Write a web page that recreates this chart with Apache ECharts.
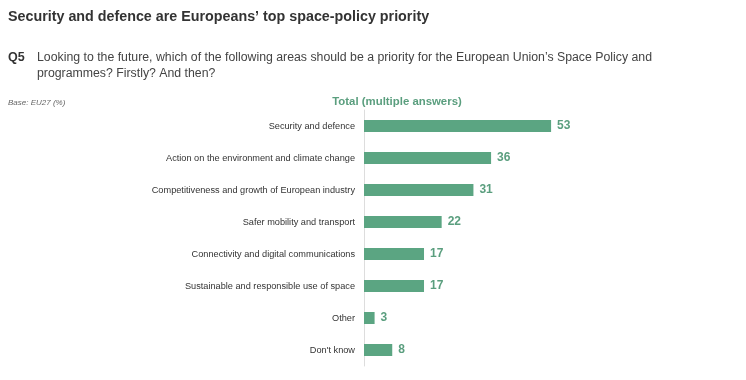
<!DOCTYPE html>
<html><head><meta charset="utf-8">
<script src="https://cdn.jsdelivr.net/npm/echarts@6/dist/echarts.min.js"></script>
<style>html,body{margin:0;padding:0;background:#fff}#c{width:746px;height:380px}</style>
</head><body><div id="c"></div>
<script>
const categories = ["Security and defence","Action on the environment and climate change","Competitiveness and growth of European industry","Safer mobility and transport","Connectivity and digital communications","Sustainable and responsible use of space","Other","Don't know"];
const values = [53, 36, 31, 22, 17, 17, 3, 8];

const chart = echarts.init(document.getElementById('c'));
const F = '"Liberation Sans", Arial, sans-serif';
chart.setOption({
  animation: false,
  title: [
    {text: "Security and defence are Europeans’ top space-policy priority", left: 8, top: 10, padding: 0,
     textStyle: {fontFamily: F, fontWeight: 'bold', fontSize: 14.3, color: '#333'}},
    {text: "Q5", left: 8, top: 50, padding: 0, textStyle: {fontFamily: F, fontWeight: 'bold', fontSize: 12.5, lineHeight: 16, color: '#333'}},
    {text: "Looking to the future, which of the following areas should be a priority for the European Union’s Space Policy and\nprogrammes? Firstly? And then?", left: 37, top: 50, padding: 0,
     textStyle: {fontFamily: F, fontWeight: 'normal', fontSize: 12.3, lineHeight: 16, color: '#444'}},
    {text: "Base: EU27 (%)", left: 8, top: 99, padding: 0, textStyle: {fontFamily: F, fontStyle: 'italic', fontWeight: 'normal', fontSize: 8, color: '#666'}},
    {text: "Total (multiple answers)", left: 397, textAlign: 'center', top: 96, padding: 0, textStyle: {fontFamily: F, fontWeight: 'bold', fontSize: 11.4, color: '#5a9e7e'}}
  ],
  grid: {left: 364, top: 110, width: 353, height: 256, containLabel: false},
  xAxis: {type: 'value', min: 0, max: 100, show: false},
  yAxis: {type: 'category', data: categories, inverse: true,
    axisLine: {show: true, lineStyle: {color: '#ddd', width: 1}},
    axisTick: {show: false},
    axisLabel: {fontFamily: F, fontSize: 9.2, color: '#333', margin: 9}},
  series: [{type: 'bar', data: values, barWidth: 12,
    itemStyle: {color: '#5ba582'},
    label: {show: true, position: 'right', distance: 6, fontFamily: F, fontWeight: 'bold', fontSize: 12, color: '#5a9e7e'}}]
});
</script></body></html>
